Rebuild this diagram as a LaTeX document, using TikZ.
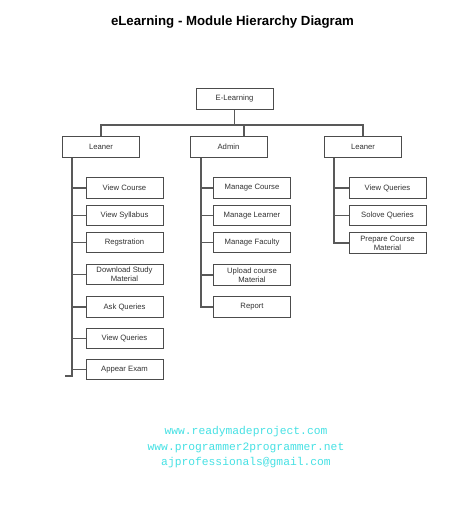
\documentclass[tikz,border=0pt]{standalone}
\usepackage{fontspec}
\setmainfont{Liberation Sans}
\newfontfamily\monofont{Liberation Mono}
\begin{document}
\begin{tikzpicture}[x=1pt,y=-1pt,
  box/.style={draw=black!70, line width=1pt, minimum width=77pt, minimum height=20.5pt, inner sep=0pt, align=center, font=\fontsize{7.7}{9}\selectfont, text=black!80},
  wire/.style={draw=black!65, line width=1.2pt}]
\fill[white] (0,0) rectangle (474,512);
\useasboundingbox (0,0) rectangle (474,512);
\node (title) at (232.5,22) {\fontsize{13.25}{15}\selectfont\bfseries eLearning - Module Hierarchy Diagram};
\node[box] (top) at (234.5,99) {E-Learning};
\node[box] (l1) at (101,147) {Leaner};
\node[box] (ad) at (228.5,147) {Admin};
\node[box] (l2) at (363,147) {Leaner};
\coordinate (bus) at (234.5,125);
\draw[wire] (top.south) -- (bus);
\draw[wire] (l1.north) |- (l2.north |- bus) -- (l2.north);
\draw[wire] ([xshift=15.5pt]ad.north) -- ([xshift=15.5pt]ad.north |- bus);
% left column
\node[box] (vc) at (124.5,188) {View Course};
\node[box] (vs) at (124.5,215.5) {View Syllabus};
\node[box] (rg) at (124.5,242.5) {Regstration};
\node[box] (ds) at (124.5,274.5) {Download Study\\Material};
\node[box] (aq) at (124.5,307) {Ask Queries};
\node[box] (vq) at (124.5,338.5) {View Queries};
\node[box] (ae) at (124.5,369.5) {Appear Exam};
\coordinate (s1) at ([xshift=-29pt]l1.south);
\coordinate (e1) at (65,376);
\draw[wire] (s1) |- (e1);
\foreach \n in {vc,vs,rg,ds,aq,vq,ae} \draw[wire] (\n.west) -- (\n.west -| s1);
% admin column
\node[box] (mc) at (252,188) {Manage Course};
\node[box] (ml) at (252,215.5) {Manage Learner};
\node[box] (mf) at (252,242.5) {Manage Faculty};
\node[box] (uc) at (252,275) {Upload course\\Material};
\node[box] (rp) at (252,307) {Report};
\coordinate (s2) at ([xshift=-27.5pt]ad.south);
\draw[wire] (s2) |- (rp.west);
\foreach \n in {mc,ml,mf,uc} \draw[wire] (\n.west) -- (\n.west -| s2);
% right column
\node[box] (rq) at (387.5,188) {View Queries};
\node[box] (sq) at (387.5,215.5) {Solove Queries};
\node[box] (pc) at (387.5,243) {Prepare Course\\Material};
\coordinate (s3) at ([xshift=-29pt]l2.south);
\draw[wire] (s3) |- (pc.west);
\foreach \n in {rq,sq} \draw[wire] (\n.west) -- (\n.west -| s3);
% footer
\node[align=center, font=\monofont\fontsize{11.3}{15.5}\selectfont, text={rgb,255:red,70;green,225;blue,228}] (urls) at (246,447.5) {www.readymadeproject.com\\www.programmer2programmer.net\\ajprofessionals@gmail.com};
\end{tikzpicture}
\end{document}
